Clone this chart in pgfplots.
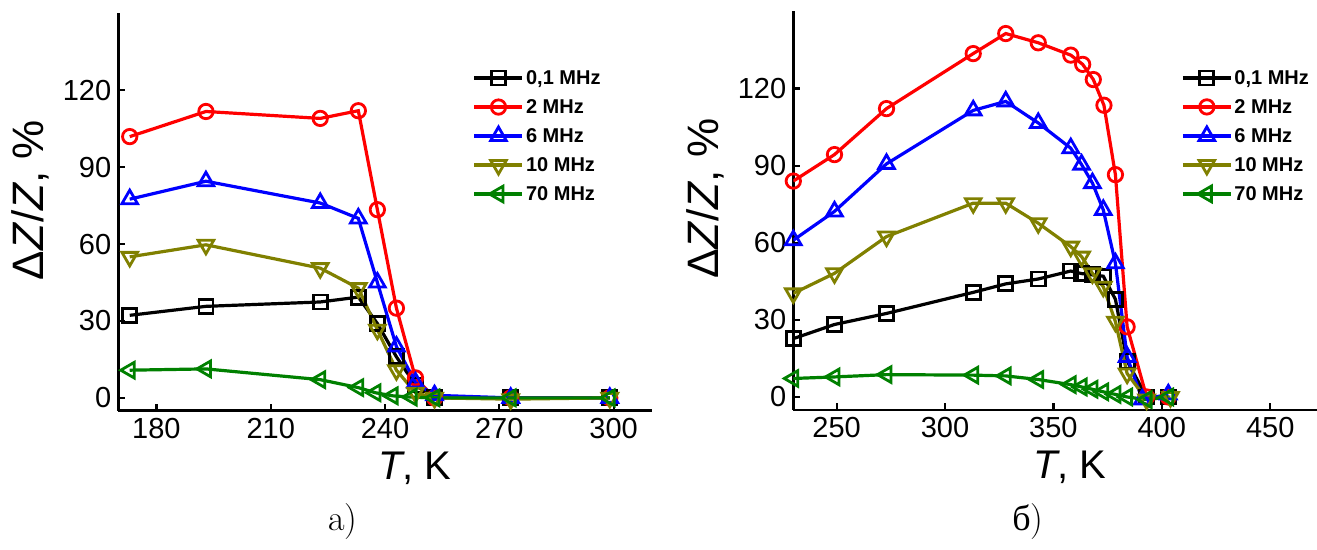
\documentclass[border=0pt]{standalone}
\usepackage{pgfplots}
\pgfplotsset{compat=1.18}
\usepackage{fontspec}
\setmainfont{Liberation Sans}
\newfontfamily\lmr{Latin Modern Roman}
\newfontfamily\cyrserif{Liberation Serif}
\definecolor{olivec}{RGB}{128,128,0}
\definecolor{greenc}{RGB}{0,128,0}
\pgfplotsset{
  myaxis/.style={
    scale only axis,
    anchor=south west,
    axis lines=left,
    axis line style={-, line width=1.3pt},
    tick align=inside,
    major tick length=3.5pt,
    tick style={line width=1.1pt, black},
    ytick={0,30,60,90,120},
    ymin=-5, ymax=150,
    /pgf/number format/assume math mode=true,
    tick label style={font=\fontsize{14.5}{16}\selectfont},
    xlabel style={font=\fontsize{20}{22}\selectfont},
    ylabel style={font=\fontsize{22}{24}\selectfont, at={(ticklabel cs:0.53)}},
    ylabel={Δ\textit{Z}/\textit{Z}, \%},
    xlabel={\textit{T}, K},
    legend cell align=left,
    legend image code/.code={\draw[mark repeat=2,mark phase=2] plot coordinates {(0pt,0pt) (12pt,0pt) (24pt,0pt)};},
    legend style={draw=none, fill=none, inner sep=0pt, font=\bfseries\fontsize{10}{11}\selectfont, row sep=5pt, nodes={inner xsep=1pt, inner ysep=0pt, text height=8pt, text depth=1.5pt}, anchor=north west},
  },
  s1/.style={black, line width=1.6pt, mark=square, mark size=3.5pt, mark options={solid, fill=white, line width=1.4pt}},
  s2/.style={red, line width=1.6pt, mark=o, mark size=3.6pt, mark options={solid, fill=white, line width=1.4pt}},
  s3/.style={blue, line width=1.6pt, mark=triangle, mark size=4.5pt, mark options={solid, fill=white, line width=1.4pt}},
  s4/.style={olivec, line width=1.6pt, mark=triangle, mark size=4.5pt, mark options={solid, fill=white, line width=1.4pt, rotate=180}},
  s5/.style={greenc, line width=1.6pt, mark=triangle, mark size=4.5pt, mark options={solid, fill=white, line width=1.4pt, rotate=90}},
}
\begin{document}
\begin{tikzpicture}
\useasboundingbox (0,0) rectangle (658.5pt,275pt);
\begin{axis}[myaxis, at={(59.15pt,69.65pt)}, width=266.7pt, height=198.7pt,
  xmin=170, xmax=310, xtick={180,210,240,270,300},
  xlabel style={at={(ticklabel cs:0.556)}},
  legend style={at={(0.664,0.862)}}]
\addplot[s1] coordinates {(173,32.2)(193,35.7)(223,37.4)(233,39.3)(238,29)(243,16)(248,5)(253,0)(273,0)(299,0)};
\addlegendentry{0,1 MHz}
\addplot[s2] coordinates {(173,101.9)(193,111.7)(223,109)(233,112)(238,73.4)(243,35)(248,7.8)(253,0)(273,0)(299,0)};
\addlegendentry{2 MHz}
\addplot[s3] coordinates {(173,77.5)(193,84.5)(223,76)(233,70)(238,45)(243,20)(248,6)(253,1)(273,0)(299,0)};
\addlegendentry{6 MHz}
\addplot[s4] coordinates {(173,55)(193,59.7)(223,50.6)(233,42.8)(238,26.6)(243,10.8)(248,2)(253,0)(273,-0.5)(299,0)};
\addlegendentry{10 MHz}
\addplot[s5] coordinates {(173,10.8)(193,11.3)(223,7.1)(233,4)(237.5,2)(242,0.8)(247,0.3)(253,0)(273,0)(299,0)};
\addlegendentry{70 MHz}
\end{axis}
\begin{axis}[myaxis, at={(396.65pt,70.08pt)}, width=261.85pt, height=199.2pt,
  xmin=230, xmax=471.6, xtick={250,300,350,400,450},
  xlabel style={at={(ticklabel cs:0.528)}},
  legend style={at={(0.740,0.858)}}]
\addplot[s1] coordinates {(230,22.7)(249,28.2)(273,32.5)(313,40.7)(328,44)(343,45.9)(358,49)(363,48)(368,47.5)(373,47)(378.6,38)(384,14)(393,0)(403,0)};
\addlegendentry{0,1 MHz}
\addplot[s2] coordinates {(230,84)(249,94.3)(273,112.2)(313,133.6)(328,141.4)(343,137.8)(358,133)(363.5,129.4)(368.4,123.5)(373.3,113.5)(378.6,86.5)(384,27.3)(393,0)(403,0)};
\addlegendentry{2 MHz}
\addplot[s3] coordinates {(230,61)(249,72.2)(273,90.7)(313,111.5)(328,115)(343,106.6)(358,96.8)(363,90.4)(368,83.2)(373,72.8)(378.6,52)(384,15.6)(391,-1)(403,1)};
\addlegendentry{6 MHz}
\addplot[s4] coordinates {(230,40.3)(249,48.1)(273,62.4)(313,75.4)(328,75.4)(343,67.6)(358,58.5)(363,54.6)(368,48.1)(373,42.9)(378.6,29.3)(384,9.1)(393,-1)(404,0)};
\addlegendentry{10 MHz}
\addplot[s5] coordinates {(230,7.2)(249,7.8)(273,8.7)(313,8.5)(328,8.2)(343,6.8)(358,4.8)(363,3.9)(368,3)(373,2)(378.6,1)(384,0)(393,-1)(403,0)};
\addlegendentry{70 MHz}
\end{axis}
\node[font=\lmr\fontsize{18}{20}\selectfont] at (171.5pt,14pt) {a)};
\node[font=\fontsize{18}{20}\selectfont] at (514pt,14pt) {{\cyrserif б}{\lmr )}};
\end{tikzpicture}
\end{document}
